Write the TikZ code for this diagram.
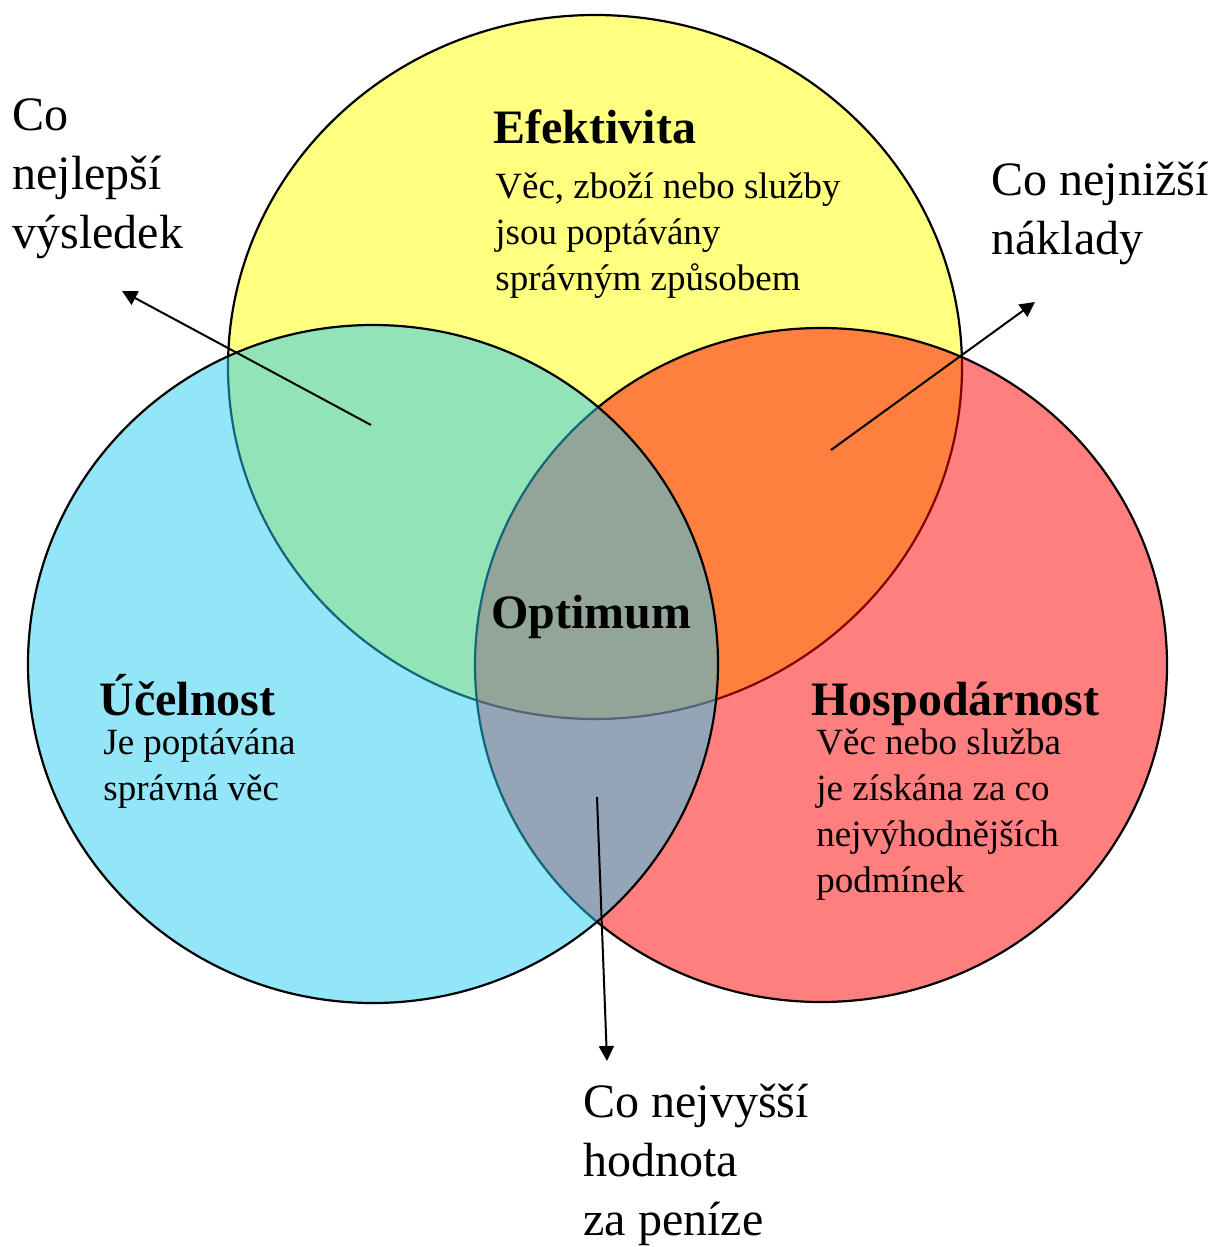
\documentclass[tikz,border=0pt]{standalone}
\usepackage{fontspec}
\setmainfont{Liberation Serif}
\usetikzlibrary{arrows.meta}

\definecolor{Efekt}{HTML}{FFFF80}
\definecolor{Hosp}{HTML}{FF0000}
\definecolor{Ucel}{HTML}{27CBF1}

\begin{document}
\begin{tikzpicture}[x=0.5pt, y=-0.5pt,
  nadpis/.style={anchor=base west, inner sep=0pt, font=\fontsize{24}{29}\selectfont\bfseries},
  popis/.style={anchor=base west, inner sep=0pt, align=left, font=\fontsize{18.5}{23}\selectfont},
  otazka/.style={anchor=base west, inner sep=0pt, align=left, font=\fontsize{24}{29.3}\selectfont},
  sipka/.style={-{Triangle[length=7.5pt,width=7.5pt]}, line width=1}]

 \useasboundingbox (0,0) rectangle (1213,1247);

  %%%%%%%%%% Centres of the three ellipses %%%%%%%%%%

 \coordinate (E) at (595,367);
 \coordinate (U) at (373,664);
 \coordinate (H) at (821,665);

 %%%%%%%%%% Ellipses (yellow, red, blue) %%%%%%%%%%
 \filldraw [fill=Efekt, line width=1.1] (E) ellipse [x radius=367, y radius=352];
 \filldraw [fill=Hosp, fill opacity=0.5, line width=1.1] (H) ellipse [x radius=346, y radius=337];
 \filldraw [fill=Ucel, fill opacity=0.5, line width=1.1] (U) ellipse [x radius=345, y radius=339];

 %%%%%%%%%% Titles %%%%%%%%%%
 \node (efekt) [nadpis] at (493,143) {Efektivita};
 \node (ucel) [nadpis] at (99,715) {Účelnost};
 \node (hosp) [nadpis] at (811,715) {Hospodárnost};
 \node (opt) [nadpis] at (491,628) {Optimum};

 %%%%%%%%%% Descriptions (placed at the last line) %%%%%%%%%%
 \node (efektpopis) [popis] at (495,290) {Věc, zboží nebo služby\\jsou poptávány\\správným způsobem};
 \node (ucelpopis) [popis] at (103,800) {Je poptávána\\správná věc};
 \node (hosppopis) [popis] at (816,892) {Věc nebo služba\\je získána za co\\nejvýhodnějších\\podmínek};

 %%%%%%%%%% Outer labels %%%%%%%%%%
 \node (vysledek) [otazka] at (12,248) {Co\\nejlepší\\výsledek};
 \node (naklady) [otazka] at (991,254) {Co nejnižší\\náklady};
 \node (hodnota) [otazka] at (583,1235) {Co nejvyšší\\hodnota\\za peníze};

 %%%%%%%%%% Arrows %%%%%%%%%%
 \coordinate (t1) at (371,425);
 \coordinate (h1) at (122,291);
 \coordinate (t2) at (831,450);
 \coordinate (h2) at (1035,302);
 \coordinate (t3) at (597,797);
 \coordinate (h3) at (607,1061);

 \draw [sipka] (t1) -- (h1);
 \draw [sipka] (t2) -- (h2);
 \draw [sipka] (t3) -- (h3);

\end{tikzpicture}
\end{document}
